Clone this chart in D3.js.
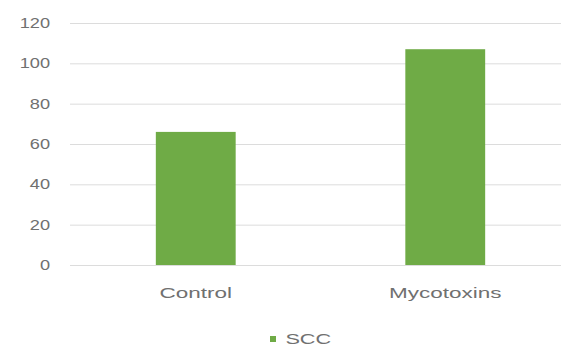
<!DOCTYPE html>
<html>
<head>
<meta charset="utf-8">
<script src="https://cdn.jsdelivr.net/npm/d3@7"></script>
<style>
  html, body { margin: 0; padding: 0; background: #fff; }
  svg { display: block; }
  text { font-family: "Liberation Sans", Arial, sans-serif; fill: #707070; }
</style>
</head>
<body>
<svg id="chart" width="561" height="349"></svg>
<script>
// Somatic cell count by treatment group
const categories = ["Control", "Mycotoxins"];
const sccValues = [66, 107];
const yTicks = [0, 20, 40, 60, 80, 100, 120];
const seriesName = "SCC";

const W = 561, H = 349;
const plot = { left: 71, right: 570, top: 23, bottom: 265 };
const barColor = "#6fab46";
const textColor = "#707070";

const svg = d3.select("#chart");

const x = d3.scaleBand()
  .domain(categories)
  .range([plot.left, plot.right])
  .paddingInner(0.68)
  .paddingOuter(0.34);

const y = d3.scaleLinear()
  .domain([0, 120])
  .range([plot.bottom, plot.top]);

// horizontal gridlines
svg.append("g")
  .selectAll("line")
  .data(yTicks)
  .join("line")
  .attr("x1", plot.left - 1)
  .attr("x2", plot.right)
  .attr("y1", d => y(d) + 0.5)
  .attr("y2", d => y(d) + 0.5)
  .attr("stroke", "#dcdcdc")
  .attr("stroke-width", 1);

// y-axis labels (no axis line)
const yAxis = d3.axisLeft(y).tickValues(yTicks).tickSize(0).tickPadding(0);
const gy = svg.append("g").attr("transform", "translate(50,0)").call(yAxis);
gy.select(".domain").remove();
gy.selectAll(".tick text")
  .attr("font-size", 14)
  .attr("fill", textColor)
  .style("font-family", "'Liberation Sans', Arial, sans-serif")
  .attr("transform", "scale(1.3,1)");

// bars
svg.append("g")
  .selectAll("rect")
  .data(categories.map((c, i) => ({ c, v: sccValues[i] })))
  .join("rect")
  .attr("x", d => x(d.c))
  .attr("width", x.bandwidth())
  .attr("y", d => y(d.v))
  .attr("height", d => y(0) - y(d.v))
  .attr("fill", barColor);

// category labels
const xAxis = d3.axisBottom(x).tickSize(0).tickPadding(0);
const gx = svg.append("g").attr("transform", `translate(0,${plot.bottom + 28})`).call(xAxis);
gx.select(".domain").remove();
gx.selectAll(".tick text")
  .attr("font-size", 15)
  .attr("fill", textColor)
  .attr("dy", "0.35em")
  .attr("y", 0)
  .style("font-family", "'Liberation Sans', Arial, sans-serif")
  .attr("transform", "scale(1.5,1)");

// legend
const legend = svg.append("g").attr("transform", "translate(273, 339)");
legend.append("rect")
  .attr("x", -3).attr("y", -3)
  .attr("width", 6).attr("height", 6)
  .attr("fill", barColor);
legend.append("text")
  .attr("x", 8)
  .attr("dy", "0.36em")
  .attr("font-size", 14)
  .attr("fill", textColor)
  .attr("transform", "scale(1.55,1)")
  .text(seriesName);
</script>
</body>
</html>
